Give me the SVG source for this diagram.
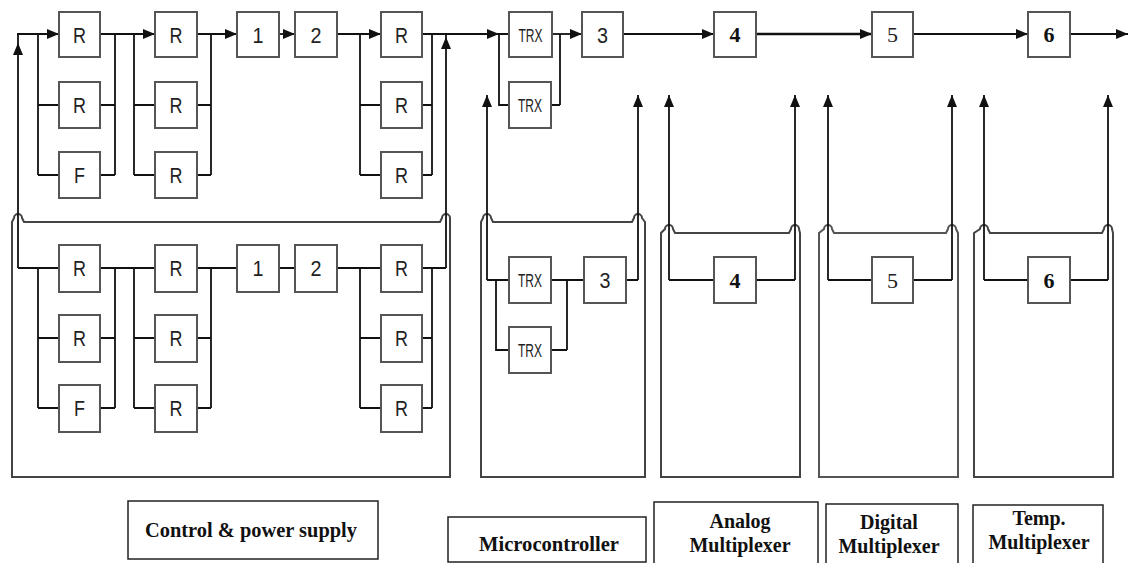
<svg xmlns="http://www.w3.org/2000/svg" width="1129" height="563" viewBox="0 0 1129 563">
<style>
.bx{fill:#fff;stroke:#555;stroke-width:2}
.ln{fill:none;stroke:#111;stroke-width:1.8}
.fr{fill:none;stroke:#444;stroke-width:2}
.lb{fill:#fff;stroke:#222;stroke-width:1.5}
.s{font-family:"Liberation Sans",Arial,sans-serif;font-size:22px;fill:#222}
.t{font-family:"Liberation Sans",Arial,sans-serif;font-size:19px;fill:#222}
.nb{font-family:"Liberation Serif","Times New Roman",serif;font-size:22px;font-weight:bold;fill:#111}
.nr{font-family:"Liberation Serif","Times New Roman",serif;font-size:22px;fill:#222}
.lt{font-family:"Liberation Serif","Times New Roman",serif;font-size:20px;font-weight:bold;fill:#111;text-anchor:middle}
</style>
<defs>
<marker id="ah" viewBox="0 0 12 10" refX="12" refY="5" markerWidth="12" markerHeight="10" markerUnits="userSpaceOnUse" orient="auto">
<path d="M0,0 L12,5 L0,10 Z" fill="#111"/>
</marker>
</defs>
<rect width="1129" height="563" fill="#fff"/>

<g id="frames">
<path class="fr" d="M12,477 V222 L14,218 A4,4 0 0 1 22,218 L24,222 H440 L442,218 A4,4 0 0 1 450,218 V477 Z"/>
<path class="fr" d="M481,477 V222 L483,218 A4,4 0 0 1 491,218 L493,222 H632 L634,218 A4,4 0 0 1 642,218 L645,222 V477 Z"/>
<path class="fr" d="M661,477 V233 L665,229 A4,4 0 0 1 673,229 L675,233 H789 L791,229 A4,4 0 0 1 799,229 L800,233 V477 Z"/>
<path class="fr" d="M819,477 V233 L824,229 A4,4 0 0 1 832,229 L834,233 H946 L948,229 A4,4 0 0 1 956,229 L958,233 V477 Z" style="stroke:#555"/>
<path class="fr" d="M974,477 V233 L980,229 A4,4 0 0 1 988,229 L990,233 H1102 L1104,229 A4,4 0 0 1 1112,229 L1113,233 V477 Z"/>
</g>

<g id="connectors">
<path class="ln" d="M17,34 H59" marker-end="url(#ah)"/>
<path class="ln" d="M38,34 V175 M38,105 H59 M38,175 H59"/>
<path class="ln" d="M100,34 H155" marker-end="url(#ah)"/>
<path class="ln" d="M100,105 H115 M100,175 H115 M115,34 V175"/>
<path class="ln" d="M134,34 V175 M134,105 H155 M134,175 H155"/>
<path class="ln" d="M197,34 H237" marker-end="url(#ah)"/>
<path class="ln" d="M197,105 H211 M197,175 H211 M211,34 V175"/>
<path class="ln" d="M279,34 H295" marker-end="url(#ah)"/>
<path class="ln" d="M337,34 H381" marker-end="url(#ah)"/>
<path class="ln" d="M360,34 V175 M360,105 H381 M360,175 H381"/>
<path class="ln" d="M422,105 H432 M422,175 H432 M432,34 V175"/>
<path class="ln" d="M422,34 H499" marker-end="url(#ah)"/>
<path class="ln" d="M499,34 H509 M499,34 V105 H509"/>
<path class="ln" d="M551,105 H560 M560,34 V105"/>
<path class="ln" d="M552,34 H582" marker-end="url(#ah)"/>
<path class="ln" d="M623,34 H714" marker-end="url(#ah)"/>
<path class="ln" d="M756,34 H872" marker-end="url(#ah)" style="stroke-width:2.6"/>
<path class="ln" d="M913,34 H1028" marker-end="url(#ah)"/>
<path class="ln" d="M1070,34 H1128" marker-end="url(#ah)"/>
<path class="ln" d="M18,268 V43" marker-end="url(#ah)"/>
<path class="ln" d="M18,43 V34"/>
<path class="ln" d="M446,268 V37" marker-end="url(#ah)"/>
<path class="ln" d="M446,37 V34"/>
<path class="ln" d="M487,280 V95" marker-end="url(#ah)"/>
<path class="ln" d="M638,280 V95" marker-end="url(#ah)"/>
<path class="ln" d="M669,280 V95" marker-end="url(#ah)"/>
<path class="ln" d="M795,280 V95" marker-end="url(#ah)"/>
<path class="ln" d="M828,280 V95" marker-end="url(#ah)"/>
<path class="ln" d="M952,280 V95" marker-end="url(#ah)"/>
<path class="ln" d="M984,280 V95" marker-end="url(#ah)"/>
<path class="ln" d="M1108,280 V95" marker-end="url(#ah)"/>
<path class="ln" d="M18,268 H59 M38,268 V408 M38,338 H59 M38,408 H59"/>
<path class="ln" d="M100,268 H155 M100,338 H115 M100,408 H115 M115,268 V408"/>
<path class="ln" d="M134,268 V408 M134,338 H155 M134,408 H155"/>
<path class="ln" d="M197,268 H237 M197,338 H211 M197,408 H211 M211,268 V408"/>
<path class="ln" d="M279,268 H295 M337,268 H381 M360,268 V408 M360,338 H381 M360,408 H381"/>
<path class="ln" d="M422,268 H446 M422,338 H432 M422,408 H432 M432,268 V408"/>
<path class="ln" d="M487,280 H509 M496,280 V350 H509 M551,280 H584 M551,350 H567 M567,280 V350 M626,280 H638"/>
<path class="ln" d="M669,280 H714 M756,280 H795"/>
<path class="ln" d="M828,280 H872 M913,280 H952"/>
<path class="ln" d="M984,280 H1028 M1070,280 H1108"/>
</g>

<g id="top-r1"><rect class="bx" x="59" y="12" width="41" height="45"/><text class="s" x="73" y="42.5" textLength="13" lengthAdjust="spacingAndGlyphs">R</text></g>
<g id="top-r2"><rect class="bx" x="59" y="82" width="41" height="46"/><text class="s" x="73" y="113" textLength="13" lengthAdjust="spacingAndGlyphs">R</text></g>
<g id="top-f"><rect class="bx" x="59" y="152" width="41" height="46"/><text class="s" x="74" y="183" textLength="11" lengthAdjust="spacingAndGlyphs">F</text></g>
<g id="top-r4"><rect class="bx" x="155" y="12" width="42" height="45"/><text class="s" x="169.5" y="42.5" textLength="13" lengthAdjust="spacingAndGlyphs">R</text></g>
<g id="top-r5"><rect class="bx" x="155" y="82" width="42" height="46"/><text class="s" x="169.5" y="113" textLength="13" lengthAdjust="spacingAndGlyphs">R</text></g>
<g id="top-r6"><rect class="bx" x="155" y="152" width="42" height="46"/><text class="s" x="169.5" y="183" textLength="13" lengthAdjust="spacingAndGlyphs">R</text></g>
<g id="top-1"><rect class="bx" x="237" y="12" width="42" height="45"/><text class="s" x="252.5" y="42.5" textLength="11" lengthAdjust="spacingAndGlyphs">1</text></g>
<g id="top-2"><rect class="bx" x="295" y="12" width="42" height="45"/><text class="s" x="310.5" y="42.5" textLength="11" lengthAdjust="spacingAndGlyphs">2</text></g>
<g id="top-r7"><rect class="bx" x="381" y="12" width="41" height="45"/><text class="s" x="395" y="42.5" textLength="13" lengthAdjust="spacingAndGlyphs">R</text></g>
<g id="top-r8"><rect class="bx" x="381" y="82" width="41" height="46"/><text class="s" x="395" y="113" textLength="13" lengthAdjust="spacingAndGlyphs">R</text></g>
<g id="top-r9"><rect class="bx" x="381" y="152" width="41" height="46"/><text class="s" x="395" y="183" textLength="13" lengthAdjust="spacingAndGlyphs">R</text></g>
<g id="top-trx1"><rect class="bx" x="509" y="12" width="43" height="45"/><text class="t" x="518.5" y="41.5" textLength="24" lengthAdjust="spacingAndGlyphs">TRX</text></g>
<g id="top-trx2"><rect class="bx" x="509" y="82" width="42" height="46"/><text class="t" x="518" y="112" textLength="24" lengthAdjust="spacingAndGlyphs">TRX</text></g>
<g id="top-3"><rect class="bx" x="582" y="12" width="41" height="45"/><text class="s" x="597" y="42.5" textLength="11" lengthAdjust="spacingAndGlyphs">3</text></g>
<g id="top-4"><rect class="bx" x="714" y="12" width="42" height="45"/><text class="nb" x="735" y="42" text-anchor="middle">4</text></g>
<g id="top-5"><rect class="bx" x="872" y="12" width="41" height="45"/><text class="nr" x="892.5" y="42" text-anchor="middle">5</text></g>
<g id="top-6"><rect class="bx" x="1028" y="12" width="42" height="45"/><text class="nb" x="1049" y="42" text-anchor="middle">6</text></g>

<g id="low-r1"><rect class="bx" x="59" y="245" width="41" height="47"/><text class="s" x="73" y="276" textLength="13" lengthAdjust="spacingAndGlyphs">R</text></g>
<g id="low-r2"><rect class="bx" x="59" y="315" width="41" height="47"/><text class="s" x="73" y="346" textLength="13" lengthAdjust="spacingAndGlyphs">R</text></g>
<g id="low-f"><rect class="bx" x="59" y="385" width="41" height="47"/><text class="s" x="74" y="416" textLength="11" lengthAdjust="spacingAndGlyphs">F</text></g>
<g id="low-r4"><rect class="bx" x="155" y="245" width="42" height="47"/><text class="s" x="169.5" y="276" textLength="13" lengthAdjust="spacingAndGlyphs">R</text></g>
<g id="low-r5"><rect class="bx" x="155" y="315" width="42" height="47"/><text class="s" x="169.5" y="346" textLength="13" lengthAdjust="spacingAndGlyphs">R</text></g>
<g id="low-r6"><rect class="bx" x="155" y="385" width="42" height="47"/><text class="s" x="169.5" y="416" textLength="13" lengthAdjust="spacingAndGlyphs">R</text></g>
<g id="low-1"><rect class="bx" x="237" y="245" width="42" height="47"/><text class="s" x="252.5" y="276" textLength="11" lengthAdjust="spacingAndGlyphs">1</text></g>
<g id="low-2"><rect class="bx" x="295" y="245" width="42" height="47"/><text class="s" x="310.5" y="276" textLength="11" lengthAdjust="spacingAndGlyphs">2</text></g>
<g id="low-r7"><rect class="bx" x="381" y="245" width="41" height="47"/><text class="s" x="395" y="276" textLength="13" lengthAdjust="spacingAndGlyphs">R</text></g>
<g id="low-r8"><rect class="bx" x="381" y="315" width="41" height="47"/><text class="s" x="395" y="346" textLength="13" lengthAdjust="spacingAndGlyphs">R</text></g>
<g id="low-r9"><rect class="bx" x="381" y="385" width="41" height="47"/><text class="s" x="395" y="416" textLength="13" lengthAdjust="spacingAndGlyphs">R</text></g>

<g id="low-trx1"><rect class="bx" x="509" y="257" width="42" height="46"/><text class="t" x="518" y="287" textLength="24" lengthAdjust="spacingAndGlyphs">TRX</text></g>
<g id="low-trx2"><rect class="bx" x="509" y="327" width="42" height="46"/><text class="t" x="518" y="357" textLength="24" lengthAdjust="spacingAndGlyphs">TRX</text></g>
<g id="low-3"><rect class="bx" x="584" y="257" width="42" height="46"/><text class="s" x="599.5" y="288" textLength="11" lengthAdjust="spacingAndGlyphs">3</text></g>
<g id="low-4"><rect class="bx" x="714" y="257" width="42" height="46"/><text class="nb" x="735" y="288" text-anchor="middle">4</text></g>
<g id="low-5"><rect class="bx" x="872" y="257" width="41" height="46"/><text class="nr" x="892.5" y="288" text-anchor="middle">5</text></g>
<g id="low-6"><rect class="bx" x="1028" y="257" width="42" height="46"/><text class="nb" x="1049" y="288" text-anchor="middle">6</text></g>

<g id="label-control"><rect class="lb" x="128" y="501" width="250" height="58"/><text class="lt" x="251" y="537" textLength="212" lengthAdjust="spacingAndGlyphs">Control &amp; power supply</text></g>
<g id="label-micro"><rect class="lb" x="448" y="517" width="198" height="45"/><text class="lt" x="549" y="551" textLength="140" lengthAdjust="spacingAndGlyphs">Microcontroller</text></g>
<g id="label-analog"><rect class="lb" x="654" y="502" width="164" height="62"/><text class="lt" x="740" y="528">Analog</text><text class="lt" x="740" y="552">Multiplexer</text></g>
<g id="label-digital"><rect class="lb" x="826" y="504" width="132" height="60"/><text class="lt" x="889" y="529">Digital</text><text class="lt" x="889" y="553">Multiplexer</text></g>
<g id="label-temp"><rect class="lb" x="973" y="505" width="130" height="59"/><text class="lt" x="1039" y="525">Temp.</text><text class="lt" x="1039" y="549">Multiplexer</text></g>
</svg>
